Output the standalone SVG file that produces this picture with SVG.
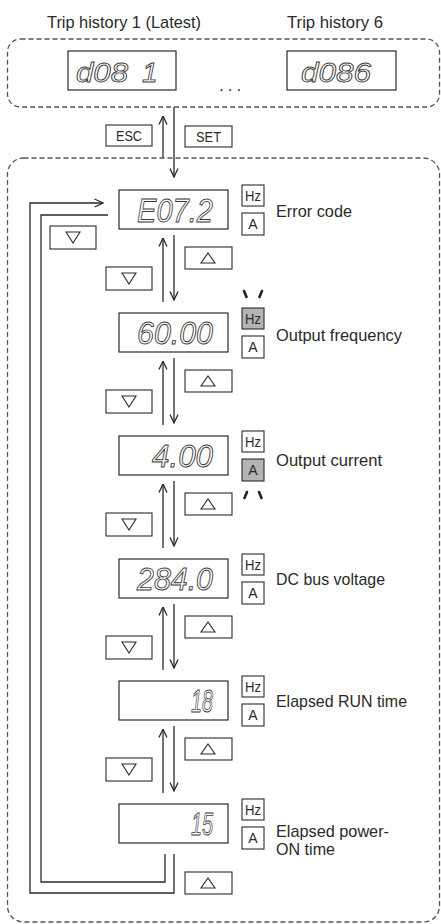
<svg xmlns="http://www.w3.org/2000/svg" width="441" height="924" viewBox="0 0 441 924">
<style>
.bg{fill:#fff}
.dash{fill:none;stroke:#555;stroke-width:1.3;stroke-dasharray:5 3}
.box{fill:#fff;stroke:#2a2a2a;stroke-width:1.2}
.unit{fill:#fff;stroke:#2a2a2a;stroke-width:1.1}
.lit{fill:#b4b4b4}
.ln{fill:none;stroke:#2a2a2a;stroke-width:1.3}
.tri{fill:none;stroke:#2a2a2a;stroke-width:1.1}
.lbl{font-family:"Liberation Sans",Arial,sans-serif;font-size:17px;fill:#2a2a2a}
.key{font-family:"Liberation Sans",Arial,sans-serif;font-size:14px;fill:#2a2a2a;text-anchor:middle}
.seg{font-family:"Liberation Sans",Arial,sans-serif;font-style:italic;fill:#fff;stroke:#3a3a3a;stroke-width:0.9}
.blink{stroke:#222;stroke-width:2.6;stroke-linecap:round}
</style>
<defs>
<marker id="ah" markerUnits="userSpaceOnUse" viewBox="0 0 10 10" refX="9.5" refY="5" markerWidth="10" markerHeight="10" orient="auto">
<path d="M1,1 L9.5,5 L1,9" fill="none" stroke="#2a2a2a" stroke-width="1.3"/>
</marker>
</defs>
<rect class="bg" x="0" y="0" width="441" height="924"/>

<g id="titles">
<text class="lbl" x="47" y="28" textLength="154" lengthAdjust="spacingAndGlyphs">Trip history 1 (Latest)</text>
<text class="lbl" x="287" y="28" textLength="96" lengthAdjust="spacingAndGlyphs">Trip history 6</text>
</g>

<g id="history-group">
<rect class="dash" x="7.5" y="39" width="432" height="68" rx="13"/>
</g>
<g id="monitor-group">
<rect class="dash" x="7.5" y="158" width="432" height="764" rx="16"/>
</g>

<g id="trip1">
<rect class="box" x="68" y="51" width="108" height="39"/>
<text class="seg" x="76" y="82" font-size="28"><tspan textLength="52" lengthAdjust="spacingAndGlyphs">d08</tspan><tspan x="142">1</tspan></text>
</g>
<g id="dots"><text class="lbl" x="219" y="91" font-size="16" letter-spacing="4">...</text></g>
<g id="trip6">
<rect class="box" x="287" y="51" width="109" height="39"/>
<text class="seg" x="301" y="82" font-size="28" textLength="70" lengthAdjust="spacingAndGlyphs">d086</text>
</g>

<g id="key-esc">
<rect class="unit" x="106" y="125" width="46" height="21"/>
<text class="key" x="129" y="141" font-size="15" textLength="26" lengthAdjust="spacingAndGlyphs">ESC</text>
</g>
<g id="key-set">
<rect class="unit" x="185" y="126" width="47" height="21"/>
<text class="key" x="208.5" y="142" font-size="15" textLength="25" lengthAdjust="spacingAndGlyphs">SET</text>
</g>

<g id="connectors">
<line class="ln" x1="163" y1="158" x2="163" y2="116" marker-end="url(#ah)"/>
<line class="ln" x1="174" y1="107" x2="174" y2="177" marker-end="url(#ah)"/>
<polyline class="ln" points="174,854 174,893 30,893 30,203 103,203" marker-end="url(#ah)"/>
<polyline class="ln" points="165,854 165,882 41,882 41,215 108,215"/>
<line class="ln" x1="163" y1="302" x2="163" y2="238" marker-end="url(#ah)"/>
<line class="ln" x1="174" y1="235" x2="174" y2="300" marker-end="url(#ah)"/>
<line class="ln" x1="163" y1="425" x2="163" y2="361" marker-end="url(#ah)"/>
<line class="ln" x1="174" y1="358" x2="174" y2="423" marker-end="url(#ah)"/>
<line class="ln" x1="163" y1="548" x2="163" y2="484" marker-end="url(#ah)"/>
<line class="ln" x1="174" y1="481" x2="174" y2="546" marker-end="url(#ah)"/>
<line class="ln" x1="163" y1="670" x2="163" y2="607" marker-end="url(#ah)"/>
<line class="ln" x1="174" y1="604" x2="174" y2="668" marker-end="url(#ah)"/>
<line class="ln" x1="163" y1="793" x2="163" y2="729" marker-end="url(#ah)"/>
<line class="ln" x1="174" y1="726" x2="174" y2="791" marker-end="url(#ah)"/>
</g>

<g id="keys">
<g id="key-loop-down"><rect class="unit" x="50" y="226" width="46" height="23"/><polygon class="tri" points="66,232 80,232 73,243"/></g>
<g id="key-up-1"><rect class="unit" x="185" y="247" width="47" height="22"/><polygon class="tri" points="201,263 215,263 208,253"/></g>
<g id="key-down-1"><rect class="unit" x="106" y="267" width="46" height="23"/><polygon class="tri" points="122,273 136,273 129,284"/></g>
<g id="key-up-2"><rect class="unit" x="185" y="370" width="47" height="22"/><polygon class="tri" points="201,386 215,386 208,376"/></g>
<g id="key-down-2"><rect class="unit" x="106" y="390" width="46" height="23"/><polygon class="tri" points="122,396 136,396 129,407"/></g>
<g id="key-up-3"><rect class="unit" x="185" y="493" width="47" height="22"/><polygon class="tri" points="201,509 215,509 208,499"/></g>
<g id="key-down-3"><rect class="unit" x="106" y="513" width="46" height="23"/><polygon class="tri" points="122,519 136,519 129,530"/></g>
<g id="key-up-4"><rect class="unit" x="185" y="616" width="47" height="22"/><polygon class="tri" points="201,632 215,632 208,622"/></g>
<g id="key-down-4"><rect class="unit" x="106" y="636" width="46" height="23"/><polygon class="tri" points="122,642 136,642 129,653"/></g>
<g id="key-up-5"><rect class="unit" x="185" y="738" width="47" height="22"/><polygon class="tri" points="201,754 215,754 208,744"/></g>
<g id="key-down-5"><rect class="unit" x="106" y="758" width="46" height="23"/><polygon class="tri" points="122,764 136,764 129,775"/></g>
<g id="key-loop-up"><rect class="unit" x="185" y="872" width="47" height="22"/><polygon class="tri" points="201,888 215,888 208,878"/></g>
</g>

<g id="error-code">
<rect class="box" x="119" y="190" width="109" height="39"/>
<text class="seg" x="137" y="222" font-size="33" textLength="76" lengthAdjust="spacingAndGlyphs">E07.2</text>
<rect class="unit" x="242" y="185" width="22" height="21"/><text class="key" x="253" y="201" textLength="16" lengthAdjust="spacingAndGlyphs">Hz</text>
<rect class="unit" x="242" y="213" width="22" height="22"/><text class="key" x="253" y="229">A</text>
<text class="lbl" x="276" y="217" textLength="76" lengthAdjust="spacingAndGlyphs">Error code</text>
</g>

<g id="output-frequency">
<rect class="box" x="119" y="313" width="109" height="39"/>
<text class="seg" x="137" y="344" font-size="31" textLength="76" lengthAdjust="spacingAndGlyphs">60.00</text>
<line class="blink" x1="244" y1="291" x2="246.5" y2="297"/>
<line class="blink" x1="262" y1="291" x2="259.5" y2="297"/>
<rect class="unit lit" x="242" y="308" width="22" height="21"/><text class="key" x="253" y="324" textLength="16" lengthAdjust="spacingAndGlyphs">Hz</text>
<rect class="unit" x="242" y="336" width="22" height="22"/><text class="key" x="253" y="352">A</text>
<text class="lbl" x="276" y="341" textLength="126" lengthAdjust="spacingAndGlyphs">Output frequency</text>
</g>

<g id="output-current">
<rect class="box" x="119" y="436" width="109" height="39"/>
<text class="seg" x="152" y="467" font-size="31" textLength="61" lengthAdjust="spacingAndGlyphs">4.00</text>
<rect class="unit" x="242" y="431" width="22" height="21"/><text class="key" x="253" y="447" textLength="16" lengthAdjust="spacingAndGlyphs">Hz</text>
<rect class="unit lit" x="242" y="459" width="22" height="22"/><text class="key" x="253" y="475">A</text>
<line class="blink" x1="247" y1="492" x2="244.5" y2="498"/>
<line class="blink" x1="259" y1="492" x2="261.5" y2="498"/>
<text class="lbl" x="276" y="466" textLength="106" lengthAdjust="spacingAndGlyphs">Output current</text>
</g>

<g id="dc-bus-voltage">
<rect class="box" x="119" y="559" width="109" height="39"/>
<text class="seg" x="137" y="590" font-size="31" textLength="76" lengthAdjust="spacingAndGlyphs">284.0</text>
<rect class="unit" x="242" y="554" width="22" height="21"/><text class="key" x="253" y="570" textLength="16" lengthAdjust="spacingAndGlyphs">Hz</text>
<rect class="unit" x="242" y="582" width="22" height="22"/><text class="key" x="253" y="598">A</text>
<text class="lbl" x="276" y="585" textLength="109" lengthAdjust="spacingAndGlyphs">DC bus voltage</text>
</g>

<g id="elapsed-run-time">
<rect class="box" x="119" y="681" width="109" height="39"/>
<text class="seg" x="191" y="712" font-size="31" textLength="22" lengthAdjust="spacingAndGlyphs">18</text>
<rect class="unit" x="242" y="676" width="22" height="21"/><text class="key" x="253" y="692" textLength="16" lengthAdjust="spacingAndGlyphs">Hz</text>
<rect class="unit" x="242" y="704" width="22" height="22"/><text class="key" x="253" y="720">A</text>
<text class="lbl" x="276" y="707" textLength="131" lengthAdjust="spacingAndGlyphs">Elapsed RUN time</text>
</g>

<g id="elapsed-power-on-time">
<rect class="box" x="119" y="804" width="109" height="39"/>
<text class="seg" x="191" y="835" font-size="31" textLength="22" lengthAdjust="spacingAndGlyphs">15</text>
<rect class="unit" x="242" y="799" width="22" height="21"/><text class="key" x="253" y="815" textLength="16" lengthAdjust="spacingAndGlyphs">Hz</text>
<rect class="unit" x="242" y="827" width="22" height="22"/><text class="key" x="253" y="843">A</text>
<text class="lbl" x="276" y="837" textLength="113" lengthAdjust="spacingAndGlyphs">Elapsed power-</text>
<text class="lbl" x="276" y="855" textLength="59" lengthAdjust="spacingAndGlyphs">ON time</text>
</g>
</svg>
